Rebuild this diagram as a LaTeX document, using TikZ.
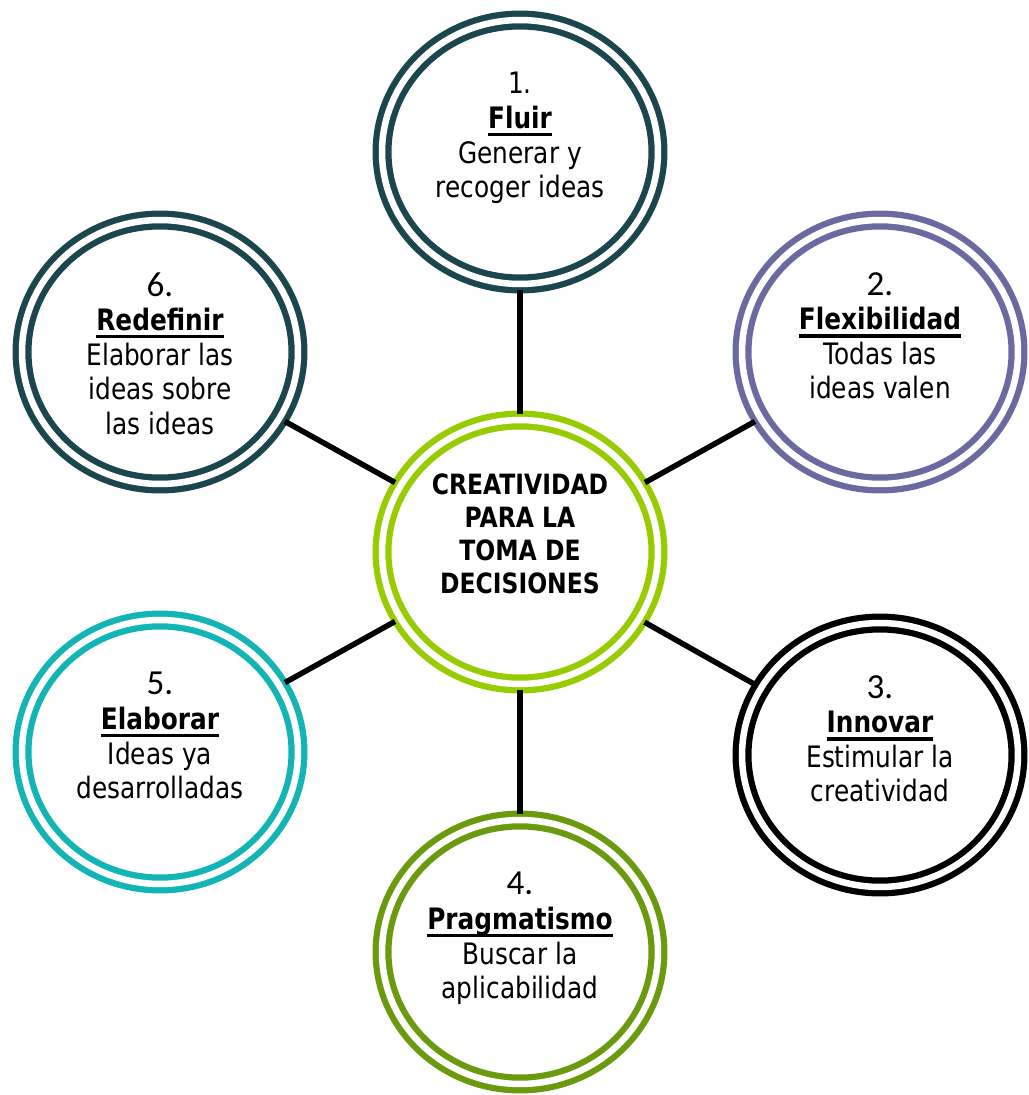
\documentclass[tikz,border=0pt]{standalone}
\usepackage{fontspec}
\setmainfont{DejaVu Sans}[FakeStretch=0.84]
\newfontfamily\numfont{Carlito}
\usetikzlibrary{shapes.geometric}

\definecolor{tealdark}{HTML}{1C464E}
\definecolor{slate}{HTML}{6A6AA0}
\definecolor{olive}{HTML}{6C9A0E}
\definecolor{cyanring}{HTML}{12B4B4}
\definecolor{lime}{HTML}{99CC00}

\newsavebox\headbox
\newcommand{\ulhead}[1]{\sbox\headbox{\bfseries #1}\rlap{\rule[-4.4pt]{\wd\headbox}{1.8pt}}\usebox\headbox}
\newcommand{\num}[1]{{\numfont\fontsize{20}{19.7}\selectfont #1}}

\begin{document}
\begin{tikzpicture}[x = 0.02cm, y = -0.02cm,
        ring/.style = {ellipse, draw = #1, double, line width = 0.125cm, double distance = 0.13cm,
            minimum width = 5.52cm, minimum height = 5.28cm, inner sep = 0, outer sep = 0.13cm},
        link/.style = {line width = 0.11cm},
        ringtext/.style = {align = center, inner sep = 0, anchor = north,
            font = \fontsize{16.8}{19.7}\selectfont}]
    \useasboundingbox (0, 0) rectangle (1028, 1095);

    % rings
    \node[ring = lime] (core) at (520, 552) {};
    \node[ring = tealdark] (fluir) at (520, 152) {};
    \node[ring = slate] (flex) at (880, 352) {};
    \node[ring = black] (innov) at (880, 755) {};
    \node[ring = olive] (pragm) at (520, 952) {};
    \node[ring = cyanring] (elab) at (160, 752) {};
    \node[ring = tealdark] (redef) at (160, 352) {};

    \foreach \n in {fluir, flex, innov, pragm, elab, redef}
        \draw[link] (core) -- (\n);

    % texts
    \node[ringtext, font = \fontsize{15.9}{18.8}\selectfont\bfseries] (coretext) at (520, 473)
        {CREATIVIDAD\\PARA LA\\TOMA DE\\DECISIONES};
    \node[ringtext] (fluirtext) at (520, 72) {1.\\\ulhead{Fluir}\\Generar y\\recoger ideas};
    \node[ringtext] (flextext) at (880, 272) {\num{2.}\\\ulhead{Flexibilidad}\\Todas las\\ideas valen};
    \node[ringtext] (innovtext) at (880, 675) {\num{3.}\\\ulhead{Innovar}\\Estimular la\\creatividad};
    \node[ringtext] (pragmtext) at (520, 872) {\num{4.}\\\ulhead{Pragmatismo}\\Buscar la\\aplicabilidad};
    \node[ringtext] (elabtext) at (160, 672) {\num{5.}\\\ulhead{Elaborar}\\Ideas ya\\desarrolladas};
    \node[ringtext] (redeftext) at (160, 272) {\num{6.}\\\ulhead{Redefinir}\\Elaborar las\\ideas sobre\\las ideas};
\end{tikzpicture}
\end{document}
